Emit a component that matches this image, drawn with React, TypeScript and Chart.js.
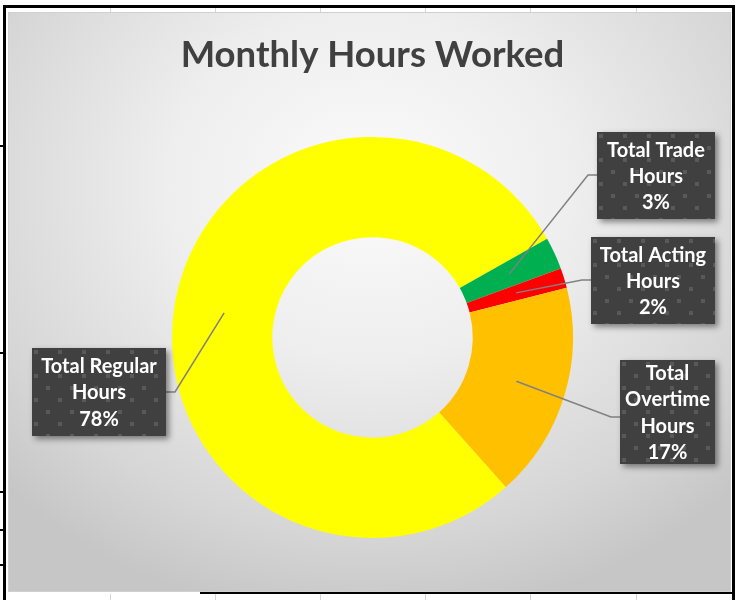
import React, { useEffect, useRef } from "react";
import { Chart, registerables } from "chart.js";

Chart.register(...registerables);

const titleText = "Monthly Hours Worked";
const categories = ["Total Regular Hours", "Total Trade Hours", "Total Acting Hours", "Total Overtime Hours"];
const hours = [78.4, 2.6, 1.6, 17.4];
const sliceColors = ["#FFFF00", "#00B050", "#FF0000", "#FFC000"];
const labelLines = [
  ["Total Regular", "Hours"],
  ["Total Trade", "Hours"],
  ["Total Acting", "Hours"],
  ["Total", "Overtime", "Hours"],
];

// label box layout (canvas pixels): x, y, w, h, which edge the leader meets, leader y
const labelBoxes = [
  { x: 24, y: 336, w: 134, h: 88, side: "right", ly: 380 },
  { x: 589, y: 120, w: 118, h: 87, side: "left", ly: 163 },
  { x: 583, y: 225, w: 124, h: 87, side: "left", ly: 268 },
  { x: 612, y: 348, w: 95, h: 104, side: "left", ly: 405 },
];

const CW = 723;
const CH = 580;

function makePattern(ctx: CanvasRenderingContext2D) {
  const c = document.createElement("canvas");
  c.width = 24;
  c.height = 24;
  const p = c.getContext("2d")!;
  p.fillStyle = "#404040";
  p.fillRect(0, 0, 24, 24);
  p.fillStyle = "#595959";
  p.fillRect(2, 2, 4, 4);
  p.fillRect(14, 14, 4, 4);
  return ctx.createPattern(c, "repeat");
}

const labelPlugin = {
  id: "calloutLabels",
  afterDatasetsDraw(chart: any) {
    const ctx: CanvasRenderingContext2D = chart.ctx;
    const meta = chart.getDatasetMeta(0);
    const data = chart.data.datasets[0].data as number[];
    const total = data.reduce((a, b) => a + b, 0);
    const pattern = makePattern(ctx);
    meta.data.forEach((arc: any, i: number) => {
      const box = labelBoxes[i];
      const anchor = arc.tooltipPosition();
      const edgeX = box.side === "left" ? box.x : box.x + box.w;
      const elbowX = box.side === "left" ? edgeX - 9 : edgeX + 9;
      // leader line
      ctx.save();
      ctx.strokeStyle = "#808080";
      ctx.lineWidth = 1.5;
      ctx.beginPath();
      ctx.moveTo(anchor.x, anchor.y);
      ctx.lineTo(elbowX, box.ly);
      ctx.lineTo(edgeX, box.ly);
      ctx.stroke();
      ctx.restore();
      // box with shadow
      ctx.save();
      ctx.shadowColor = "rgba(0,0,0,0.45)";
      ctx.shadowBlur = 6;
      ctx.shadowOffsetX = 3;
      ctx.shadowOffsetY = 3;
      ctx.fillStyle = "#404040";
      ctx.fillRect(box.x, box.y, box.w, box.h);
      ctx.restore();
      ctx.save();
      ctx.translate(box.x, box.y);
      if (pattern) ctx.fillStyle = pattern;
      ctx.fillRect(0, 0, box.w, box.h);
      ctx.restore();
      // text
      const pct = Math.round((data[i] / total) * 100) + "%";
      const lines = [...labelLines[i], pct];
      const lh = 26.3;
      const cx = box.x + box.w / 2;
      const cy = box.y + box.h / 2;
      ctx.save();
      ctx.fillStyle = "#FFFFFF";
      ctx.font = "bold 20px Lato";
      ctx.textAlign = "center";
      ctx.textBaseline = "middle";
      lines.forEach((t, k) => {
        const y = cy + (k - (lines.length - 1) / 2) * lh;
        ctx.fillText(t, cx, y + 1);
      });
      ctx.restore();
    });
  },
};

export default function App() {
  const ref = useRef<HTMLCanvasElement>(null);
  useEffect(() => {
    if (!ref.current) return;
    const chart = new Chart(ref.current, {
      type: "doughnut",
      data: {
        labels: categories,
        datasets: [
          {
            data: hours,
            backgroundColor: sliceColors,
            borderWidth: 0,
          },
        ],
      },
      options: {
        responsive: false,
        animation: false,
        rotation: 138.3,
        cutout: "50%",
        layout: { padding: { left: 164, right: 158, top: 0, bottom: 54 } },
        plugins: {
          legend: { display: false },
          tooltip: { enabled: false },
          title: {
            display: true,
            text: titleText,
            color: "#404040",
            font: { family: "Lato", size: 36.5, weight: "bold" },
            padding: { top: 21, bottom: 60 },
          },
        },
      },
      plugins: [labelPlugin],
    } as any);
    return () => chart.destroy();
  }, []);

  const blackTicksLeft = [145, 352, 491, 529, 564];
  const grayCols = [110, 215, 320, 425, 530, 636];

  return (
    <div style={{ position: "fixed", left: 0, top: 0, width: 735, height: 600, background: "#ffffff", overflow: "hidden" }}>
      {grayCols.map((x) => (
        <div key={"t" + x} style={{ position: "absolute", left: x, top: 8, width: 1, height: 4, background: "#d4d4d4" }} />
      ))}
      {grayCols.map((x) => (
        <div key={"b" + x} style={{ position: "absolute", left: x, top: 594, width: 1, height: 6, background: "#d4d4d4" }} />
      ))}
      <div style={{ position: "absolute", left: 3, top: 5, width: 732, height: 3, background: "#000" }} />
      <div style={{ position: "absolute", left: 3, top: 5, width: 3, height: 595, background: "#000" }} />
      <div style={{ position: "absolute", left: 732, top: 5, width: 3, height: 595, background: "#000" }} />
      <div style={{ position: "absolute", left: 200, top: 592, width: 535, height: 2, background: "#000" }} />
      {blackTicksLeft.map((y) => (
        <div key={"l" + y} style={{ position: "absolute", left: 0, top: y, width: 4, height: 2, background: "#000" }} />
      ))}
      <div
        style={{
          position: "absolute",
          left: 8,
          top: 12,
          width: CW,
          height: CH,
          background:
            "radial-gradient(ellipse 70% 75% at 50% 30%, #fbfbfb 0%, #eeeeee 40%, #d6d6d6 80%, #c6c6c6 100%)",
          boxShadow: "inset 0 0 0 1px #d0d0d0",
        }}
      >
        <canvas ref={ref} width={CW} height={CH} style={{ display: "block", width: CW, height: CH }} />
      </div>
    </div>
  );
}
